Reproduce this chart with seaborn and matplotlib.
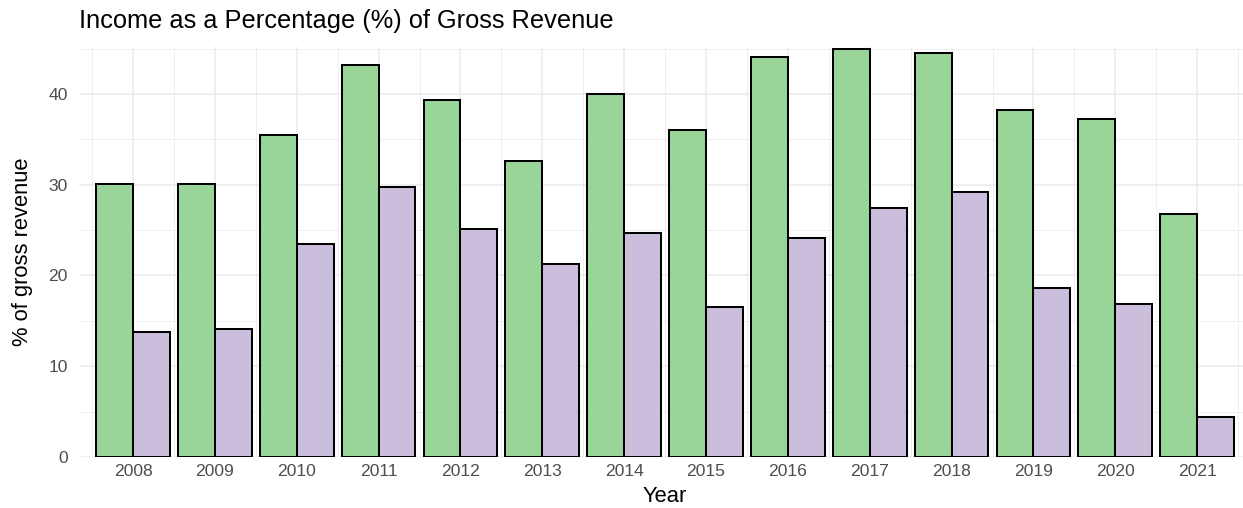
import matplotlib
matplotlib.use("Agg")
import matplotlib.pyplot as plt
import seaborn as sns
import pandas as pd
import numpy as np

years = ["2008", "2009", "2010", "2011", "2012", "2013", "2014",
         "2015", "2016", "2017", "2018", "2019", "2020", "2021"]
series_a = [30.1, 30.1, 35.5, 43.2, 39.3, 32.6, 40.0,
            36.0, 44.1, 44.9, 44.5, 38.2, 37.2, 26.8]
series_b = [13.8, 14.1, 23.5, 29.7, 25.1, 21.3, 24.7,
            16.5, 24.1, 27.4, 29.2, 18.6, 16.8, 4.4]
series_names = ["A", "B"]
fill_colors = ["#99D499", "#CBBEDD"]

df = pd.DataFrame({
    "Year": years * 2,
    "value": series_a + series_b,
    "series": [series_names[0]] * len(years) + [series_names[1]] * len(years),
})

sns.set_theme(style="white")
plt.rcParams["font.family"] = ["Liberation Sans", "DejaVu Sans"]

fig = plt.figure(figsize=(12.43, 5.08), dpi=100)
W, H = 1243, 508
ax = fig.add_axes([79 / W, 1 - 457 / H, (1243 - 79) / W, (457 - 46.7) / H])

# grid
for yv in [5, 15, 25, 35, 45]:
    ax.axhline(yv, color="#EBEBEB", lw=0.55, zorder=0)
for yv in [0, 10, 20, 30, 40]:
    ax.axhline(yv, color="#EBEBEB", lw=1.1, zorder=0)
for xv in np.arange(-0.5, len(years), 1.0):
    ax.axvline(xv, color="#EBEBEB", lw=0.55, zorder=0)
for xv in range(len(years)):
    ax.axvline(xv, color="#EBEBEB", lw=1.1, zorder=0)

sns.barplot(data=df, x="Year", y="value", hue="series", palette=fill_colors,
            width=0.9, edgecolor="black", linewidth=1.45, saturation=1,
            legend=False, ax=ax, zorder=2, err_kws={"linewidth": 0})

ax.set_xlim(-0.66, 13.56)
ax.set_ylim(0, 45.2)
ax.set_yticks([0, 10, 20, 30, 40])
ax.set_yticklabels(["0", "10", "20", "30", "40"])
for s in ax.spines.values():
    s.set_visible(False)
ax.tick_params(axis="both", length=0, labelsize=12.6, labelcolor="#4D4D4D")
ax.tick_params(axis="x", pad=5)
ax.tick_params(axis="y", pad=8)
ax.set_xlabel("")
ax.set_ylabel("")
ax.grid(False)

fig.text(665 / W, 1 - 496 / H, "Year", fontsize=15.8, color="black",
         ha="center", va="center")
fig.text(23 / W, 1 - 251.5 / H, "% of gross revenue", fontsize=15.8,
         color="black", ha="center", va="center", rotation=90)
fig.text(79 / W, 1 - 21 / H, "Income as a Percentage (%) of Gross Revenue",
         fontsize=18.3, color="black", ha="left", va="center")

fig.savefig("out.png", dpi=100, facecolor="white")
